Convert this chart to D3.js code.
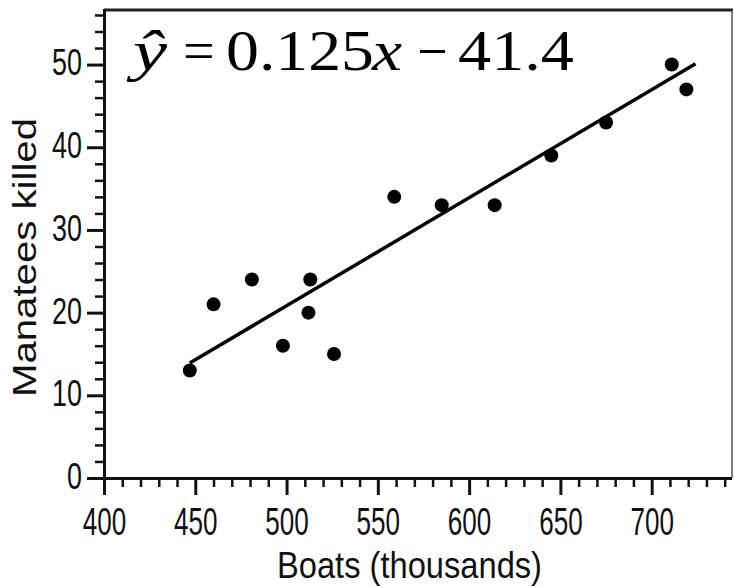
<!DOCTYPE html>
<html>
<head>
<meta charset="utf-8">
<script src="https://cdn.jsdelivr.net/npm/d3@7"></script>
<style>
  body { margin: 0; background: #fff; }
  svg { display: block; }
  .tick text { font-family: "Liberation Sans Narrow", "Arial Narrow", "Liberation Sans", sans-serif; fill: #111; }
</style>
</head>
<body>
<svg id="chart" width="734" height="587"></svg>
<script>
// boats registered (thousands) vs manatees killed
const boats = [447, 460, 481, 498, 513, 512, 526, 559, 585, 614, 645, 675, 711, 719]
const killed = [13, 21, 24, 16, 24, 20, 15, 34, 33, 33, 39, 43, 50, 47]

// fitted line as drawn in the picture (two ends)
const lineX = [447, 724]
const lineY = [13.9, 50.1]

const xMajor = [400, 450, 500, 550, 600, 650, 700]
const yMajor = [0, 10, 20, 30, 40, 50]

const svg = d3.select('#chart')
const plotL = 104, plotR = 732, plotT = 10, plotB = 478

const x = d3.scaleLinear().domain([400, 744]).range([plotL, plotR])
const y = d3.scaleLinear().domain([0, 56.6]).range([plotB, plotT])

// frame: top and right borders
svg.append('line')
  .attr('x1', plotL).attr('x2', plotR + 1)
  .attr('y1', plotT).attr('y2', plotT)
  .attr('stroke', '#222').attr('stroke-width', 3)
svg.append('line')
  .attr('x1', plotR).attr('x2', plotR)
  .attr('y1', plotT).attr('y2', plotB)
  .attr('stroke', '#555').attr('stroke-width', 1.5)

// minor ticks
const xMinor = d3.range(400, 741, 10).filter(v => v % 50 !== 0)
const yMinor = d3.range(0, 57, 2).filter(v => v % 10 !== 0)

svg.append('g')
  .attr('transform', `translate(0,${plotB})`)
  .call(d3.axisBottom(x).tickValues(xMinor).tickSize(9).tickFormat(''))
  .call(g => g.select('.domain').remove())
  .selectAll('line').attr('stroke', '#111').attr('stroke-width', 2.5)

svg.append('g')
  .attr('transform', `translate(${plotL},0)`)
  .call(d3.axisLeft(y).tickValues(yMinor).tickSize(9).tickFormat(''))
  .call(g => g.select('.domain').remove())
  .selectAll('line').attr('stroke', '#111').attr('stroke-width', 2.5)

// major axes
const xAxis = svg.append('g')
  .attr('transform', `translate(0,${plotB})`)
  .call(d3.axisBottom(x).tickValues(xMajor).tickSize(17).tickSizeOuter(0).tickPadding(12))
xAxis.select('.domain').attr('stroke', '#111').attr('stroke-width', 3)
  .attr('d', `M${plotL - 17},0.5H${plotR}`)
xAxis.selectAll('.tick line').attr('stroke', '#111').attr('stroke-width', 3)
xAxis.selectAll('.tick text')
  .attr('font-size', 39)
  .attr('textLength', d => String(d).length * 14.5)
  .attr('lengthAdjust', 'spacingAndGlyphs')

const yAxis = svg.append('g')
  .attr('transform', `translate(${plotL},0)`)
  .call(d3.axisLeft(y).tickValues(yMajor).tickSize(17).tickSizeOuter(0).tickPadding(5))
yAxis.select('.domain').attr('stroke', '#111').attr('stroke-width', 3)
  .attr('d', `M0.5,${plotB + 17}V${plotT - 1}`)
yAxis.selectAll('.tick line').attr('stroke', '#111').attr('stroke-width', 3)
yAxis.selectAll('.tick text')
  .attr('font-size', 37)
  .attr('dy', '0.28em')
  .attr('textLength', d => String(d).length * 15)
  .attr('lengthAdjust', 'spacingAndGlyphs')

// axis titles
svg.append('text')
  .attr('x', 277).attr('y', 578)
  .attr('font-family', '"Liberation Sans Narrow", "Liberation Sans", sans-serif')
  .attr('font-size', 36)
  .attr('fill', '#111')
  .attr('textLength', 265).attr('lengthAdjust', 'spacingAndGlyphs')
  .text('Boats (thousands)')

svg.append('text')
  .attr('transform', 'translate(36,397) rotate(-90)')
  .attr('font-family', '"Liberation Sans Narrow", "Liberation Sans", sans-serif')
  .attr('font-size', 33)
  .attr('fill', '#111')
  .attr('textLength', 279).attr('lengthAdjust', 'spacingAndGlyphs')
  .text('Manatees killed')

// regression line
svg.append('line')
  .attr('x1', x(lineX[0])).attr('y1', y(lineY[0]))
  .attr('x2', x(lineX[1])).attr('y2', y(lineY[1]))
  .attr('stroke', '#000').attr('stroke-width', 3.5)

// points
svg.selectAll('circle.pt')
  .data(boats)
  .enter()
  .append('circle')
  .attr('class', 'pt')
  .attr('cx', d => x(d))
  .attr('cy', (d, i) => y(killed[i]))
  .attr('r', 7)
  .attr('fill', '#000')

// equation  y-hat = 0.125x - 41.4
const eq = svg.append('g')
  .attr('font-family', '"Liberation Serif", "Times New Roman", serif')
  .attr('font-size', 56)
  .attr('fill', '#000')
eq.append('text').attr('x', 133).attr('y', 70)
  .attr('font-style', 'italic')
  .attr('textLength', 34).attr('lengthAdjust', 'spacingAndGlyphs')
  .text('\u0177')
eq.append('text').attr('x', 183).attr('y', 70).text('=')
eq.append('text').attr('x', 226).attr('y', 70)
  .attr('textLength', 148).attr('lengthAdjust', 'spacingAndGlyphs').text('0.125')
eq.append('text').attr('x', 372).attr('y', 70)
  .attr('font-style', 'italic')
  .attr('textLength', 30).attr('lengthAdjust', 'spacingAndGlyphs').text('x')
eq.append('rect').attr('x', 420).attr('y', 50).attr('width', 25).attr('height', 3)
eq.append('text').attr('x', 458).attr('y', 70)
  .attr('textLength', 116).attr('lengthAdjust', 'spacingAndGlyphs').text('41.4')
</script>
</body>
</html>
